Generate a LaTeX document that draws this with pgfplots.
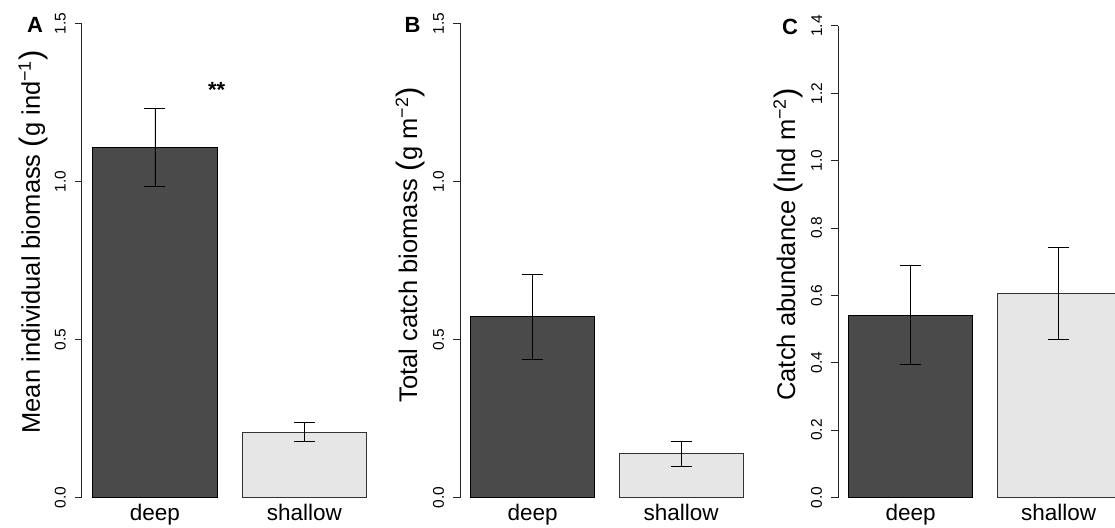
\documentclass[border=0pt]{standalone}
\usepackage{pgfplots}
\pgfplotsset{compat=1.18}
\usepackage{fontspec}
\setmainfont{Liberation Sans}

\definecolor{deepfill}{HTML}{4A4A4A}
\definecolor{shallowfill}{HTML}{E6E6E6}

\pgfplotsset{
  barpanel/.style={
    scale only axis,
    anchor=south west,
    xmin=0.112, xmax=2.488,
    ymin=0,
    clip=false,
    axis y line*=left,
    axis x line*=bottom,
    x axis line style={draw=none},
    xtick style={draw=none},
    y axis line style={line width=0.8pt, black!85},
    ytick style={line width=0.8pt, black!85},
    tick align=outside,
    major tick length=6.7pt,
    xtick={0.7,1.9},
    xticklabels={deep,shallow},
    xticklabel style={font=\fontsize{22.5}{26}\selectfont, anchor=base, inner sep=0pt, yshift=-16.5pt},
    yticklabel shift=9pt,
    yticklabel={\fontsize{15.5}{18}\selectfont\pgfmathprintnumber[fixed, fixed zerofill, precision=1, assume math mode=true]{\tick}},
    every y tick label/.style={rotate=90, anchor=south, inner sep=0pt},
  },
  barerr/.style={
    error bars/.cd, y dir=both, y explicit,
    error bar style={line width=0.8pt, black},
    error mark options={rotate=90, line width=0.8pt, mark size=10.5pt, black}},
  deepbar/.style={ybar, bar width=1, bar shift=0pt, mark=none, fill=deepfill, draw=black, line width=0.8pt, barerr},
  shallowbar/.style={ybar, bar width=1, bar shift=0pt, mark=none, fill=shallowfill, draw=black!80, line width=0.8pt, barerr},
}

\newcommand{\bigparen}[1]{{\fontsize{31}{31}\selectfont\raisebox{-1.5pt}{#1}}}

\begin{document}
\begin{tikzpicture}

% Panel A
\begin{axis}[barpanel,
  at={(81.7pt,29.5pt)}, width=295.8pt, height=474.2pt,
  ymax=1.5, ytick={0,0.5,1,1.5},
  ylabel={Mean individual biomass \bigparen{(}g ind\textsuperscript{−1}\bigparen{)}},
  every axis y label/.style={at={(axis description cs:-0.141,0.539)}, rotate=90, anchor=base, font=\fontsize{25.5}{30}\selectfont},
]
\addplot[deepbar] coordinates {(0.7,1.108) +- (0,0.124)};
\addplot[shallowbar] coordinates {(1.9,0.207) +- (0,0.030)};
\end{axis}

% Panel B
\begin{axis}[barpanel,
  at={(460pt,29.5pt)}, width=293.9pt, height=474.2pt,
  ymax=1.5, ytick={0,0.5,1,1.5},
  ylabel={Total catch biomass \bigparen{(}g m\textsuperscript{−2}\bigparen{)}},
  every axis y label/.style={at={(axis description cs:-0.146,0.533)}, rotate=90, anchor=base, font=\fontsize{25.5}{30}\selectfont},
]
\addplot[deepbar] coordinates {(0.7,0.572) +- (0,0.135)};
\addplot[shallowbar] coordinates {(1.9,0.138) +- (0,0.040)};
\end{axis}

% Panel C
\begin{axis}[barpanel,
  at={(838pt,29.5pt)}, width=293.2pt, height=471.6pt,
  ymax=1.4, ytick={0,0.2,0.4,0.6,0.8,1.0,1.2,1.4},
  ylabel={Catch abundance \bigparen{(}Ind m\textsuperscript{−2}\bigparen{)}},
  every axis y label/.style={at={(axis description cs:-0.1467,0.5365)}, rotate=90, anchor=base, font=\fontsize{25.5}{30}\selectfont},
]
\addplot[deepbar] coordinates {(0.7,0.542) +- (0,0.147)};
\addplot[shallowbar] coordinates {(1.9,0.606) +- (0,0.137)};
\end{axis}

% panel letters and significance mark
\node[font=\fontsize{22}{26}\selectfont\bfseries] at (35pt,502pt) {A};
\node[font=\fontsize{22}{26}\selectfont\bfseries] at (412.5pt,502pt) {B};
\node[font=\fontsize{22}{26}\selectfont\bfseries] at (790pt,500.5pt) {C};
\node[font=\fontsize{22}{26}\selectfont\bfseries, anchor=base, inner sep=0pt] at (216.7pt,429pt) {**};

\pgfresetboundingbox
\path[use as bounding box] (0,0) rectangle (1115pt,527pt);
\end{tikzpicture}
\end{document}
